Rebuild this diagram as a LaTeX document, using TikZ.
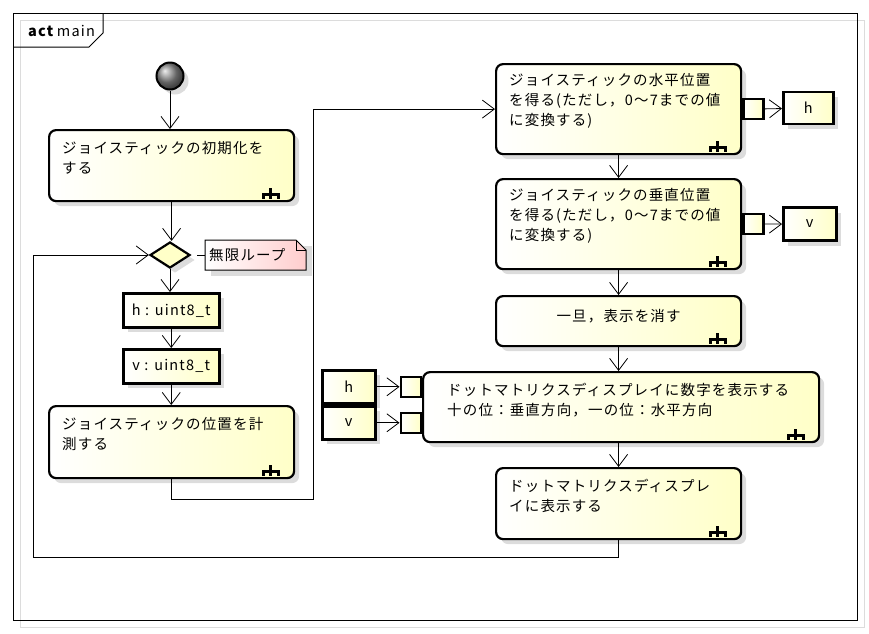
\documentclass[tikz,border=0pt]{standalone}
\usepackage{fontspec}
\setmainfont{Noto Sans CJK JP}[LetterSpace=8]
\usepackage{tikz}
\usetikzlibrary{arrows.meta,calc,shadings,shadows,shapes.geometric,positioning}
\definecolor{figline}{RGB}{0,0,0}
\definecolor{figfill}{RGB}{255,255,200}
\definecolor{figpink}{RGB}{255,205,205}
\definecolor{figshadow}{RGB}{220,220,220}
\tikzset{
  shd/.style  ={drop shadow={shadow xshift=5pt,shadow yshift=-5pt,fill=figshadow,opacity=1}},
  act/.style  ={draw=figline, line width=2.2pt, rounded corners=7pt, left color=white, right color=figfill, shd, inner sep=0pt, anchor=north west},
  obj/.style  ={draw=figline, line width=2.5pt, left color=white, right color=figfill, shd, inner sep=0pt, anchor=north west},
  pinbox/.style={draw=figline, line width=2.5pt, left color=white, right color=figfill, minimum size=20pt, inner sep=0pt},
  txt/.style  ={inner sep=0pt, align=left, anchor=north west},
  flow/.style ={draw=figline, line width=0.8pt, -{Straight Barb[length=12pt,width=18pt]}},
  rake/.pic   ={\draw[draw=figline,line width=3pt,line cap=butt] (-25,-14) -- (-25,-8) (-33,-8) -- (-15,-8) (-31.5,-8) -- (-31.5,-3) (-25,-8) -- (-25,-3) (-16.5,-8) -- (-16.5,-3);},
}
\begin{document}
\begin{tikzpicture}[x=1pt,y=-1pt,font=\fontsize{14.5}{20}\selectfont]
  \useasboundingbox (0,0) rectangle (869,633);
  % frame
  \draw[draw=figshadow,line width=1pt] (20,20) rectangle (864,627);
  \draw[draw=figline,line width=1pt] (13,13) rectangle (857,620);
  \draw[draw=figline,line width=1pt] (13,47) -- (89,47) -- (103,33) -- (103,13);
  \node[inner sep=0pt,anchor=west] (frametitle) at (28,31) {\textbf{act}\,main};

  % left column
  \node[circle, draw=figline, line width=2pt, minimum size=27pt, inner sep=0pt, shading=ball, ball color=black!45, shd] (start) at (170,76) {};
  \node[act, minimum width=245pt, minimum height=71pt] (init) at (48,129) {};
  \node[txt] (init-t) at ([shift={(14,12)}]init.north west) {ジョイスティックの初期化を\\する};
  \pic at (init.south east) {rake};
  \node[diamond, draw=figline, line width=2.2pt, minimum width=40pt, minimum height=26pt, inner sep=0pt, fill=figfill, shd] (loop) at (170,255) {};
  \node[obj, minimum width=96pt, minimum height=34pt] (hvar) at (122,292) {h : uint8\_t};
  \node[obj, minimum width=96pt, minimum height=34pt] (vvar) at (122,348) {v : uint8\_t};
  \node[act, minimum width=245pt, minimum height=72pt] (measure) at (48,405) {};
  \node[txt] (measure-t) at ([shift={(14,12)}]measure.north west) {ジョイスティックの位置を計\\測する};
  \pic at (measure.south east) {rake};

  % note
  \fill[figshadow] (211,246) rectangle (312,276);
  \shade[left color=white, right color=figpink, draw=figline, line width=1pt] (205,240) -- (296,240) -- (306,250) -- (306,270) -- (205,270) -- cycle;
  \draw[draw=figline,line width=1pt] (296,240) -- (296,250) -- (306,250);
  \node[txt, anchor=west] (loopnote) at (209,255) {無限ループ};

  % right column
  \node[act, minimum width=245pt, minimum height=90pt] (hpos) at (495,63) {};
  \node[txt] (hpos-t) at ([shift={(14,10)}]hpos.north west) {ジョイスティックの水平位置\\を得る(ただし，0〜7までの値\\に変換する)};
  \pic at (hpos.south east) {rake};
  \node[pinbox, anchor=west] (hpin) at (hpos.east) {};
  \node[obj, minimum width=50pt, minimum height=32pt, anchor=west] (hout) at (782,108) {h};

  \node[act, minimum width=245pt, minimum height=90pt] (vpos) at (495,178) {};
  \node[txt] (vpos-t) at ([shift={(14,10)}]vpos.north west) {ジョイスティックの垂直位置\\を得る(ただし，0〜7までの値\\に変換する)};
  \pic at (vpos.south east) {rake};
  \node[pinbox, anchor=west] (vpin) at (vpos.east) {};
  \node[obj, minimum width=53pt, minimum height=33pt, anchor=west] (vout) at (782,224) {v};

  \node[act, minimum width=245pt, minimum height=50pt] (clear) at (495,295) {};
  \node[inner sep=0pt] (clear-t) at ($(clear.center)+(0,-5)$) {一旦，表示を消す};
  \pic at (clear.south east) {rake};

  \node[act, minimum width=396pt, minimum height=70pt] (digits) at (422,371) {};
  \node[txt] (digits-t) at ([shift={(25,12)}]digits.north west) {ドットマトリクスディスプレイに数字を表示する\\十の位：垂直方向，一の位：水平方向};
  \pic at (digits.south east) {rake};
  \node[obj, minimum width=53pt, minimum height=33pt] (hin) at (321,369) {h};
  \node[obj, minimum width=53pt, minimum height=33pt] (vin) at (321,405) {v};
  \node[pinbox, anchor=east] (dhpin) at (digits.west |- hin.east) {};
  \node[pinbox, anchor=east] (dvpin) at (digits.west |- vin.east) {};

  \node[act, minimum width=245pt, minimum height=71pt] (show) at (495,467) {};
  \node[txt] (show-t) at ([shift={(14,12)}]show.north west) {ドットマトリクスディスプレ\\イに表示する};
  \pic at (show.south east) {rake};

  % connectors
  \coordinate (jump) at (313,499);
  \coordinate (back) at (33,557);
  \draw[flow] (start.south) -- (start.south |- init.north);
  \draw[flow] (init.south) -- (init.south |- loop.north);
  \draw[flow] (loop.south) -- (loop.south |- hvar.north);
  \draw[flow] (hvar.south) -- (vvar.north);
  \draw[flow] (vvar.south) -- (vvar.south |- measure.north);
  \draw[flow] (measure.south) |- (jump) |- (hpos.west);
  \draw[flow] (hpos.south) -- (vpos.north);
  \draw[flow] (vpos.south) -- (clear.north);
  \draw[flow] (clear.south) -- (clear.south |- digits.north);
  \draw[flow] (clear.south |- digits.south) -- (show.north);
  \draw[flow] (show.south) |- (back) |- (loop.west);
  \draw[flow] (hpin) -- (hout);
  \draw[flow] (vpin) -- (vout);
  \draw[flow] (hin) -- (dhpin);
  \draw[flow] (vin) -- (dvpin);
  \draw[draw=figline, line width=0.8pt, shorten <=6pt] (loop.east) -- (205,255);
\end{tikzpicture}
\end{document}
